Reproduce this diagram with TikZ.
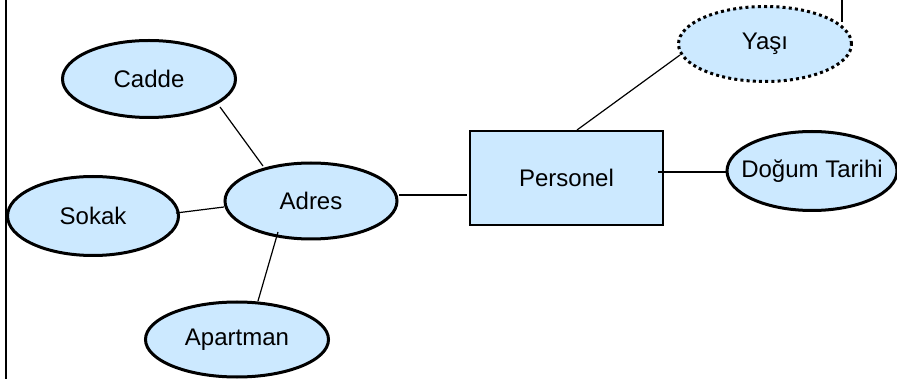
\documentclass[tikz,border=0pt]{standalone}
\usepackage{fontspec}
\setmainfont{Liberation Sans}
\usetikzlibrary{shapes.geometric}
\definecolor{attrfill}{RGB}{204,233,255}
% zero-width label so the ellipse size is set only by its minimum size
\newcommand{\flatlabel}[1]{\makebox[0pt]{#1}}
\tikzset{
  attr/.style={ellipse, draw=black, line width=3pt, fill=attrfill, inner sep=0pt,
    font=\fontsize{24}{28}\selectfont},
  derived/.style={attr, line width=3pt, dash pattern=on 3pt off 3.2pt},
  entity/.style={rectangle, draw=black, line width=1.3pt, fill=attrfill,
    minimum width=193pt, minimum height=94pt, inner sep=0pt,
    font=\fontsize{24}{28}\selectfont},
  link/.style={draw=black, line width=1.2pt},
  frame/.style={draw=black, line width=2.5pt}
}
\begin{document}
\begin{tikzpicture}[x=1pt, y=-1pt]
  \useasboundingbox (0,0) rectangle (897,379);

  % page frame line on the left
  \draw[frame] (6,-5) -- (6,384);

  % entity and attributes
  \node[entity] (personel) at (566.5,178) {Personel};
  \node[attr, minimum width=173pt, minimum height=77pt] (cadde) at (149,79) {\flatlabel{Cadde}};
  \node[attr, minimum width=171pt, minimum height=79pt] (sokak) at (93,216) {\flatlabel{Sokak}};
  \node[attr, minimum width=172pt, minimum height=76pt] (adres) at (311,201) {\flatlabel{Adres}};
  \node[attr, minimum width=183pt, minimum height=75pt] (apartman) at (237,339.5) {\flatlabel{Apartman}};
  \node[attr, minimum width=170pt, minimum height=79pt] (dogum) at (812,171) {\flatlabel{Doğum Tarihi}};
  \node[derived, minimum width=173pt, minimum height=75pt] (yasi) at (765,44) {\flatlabel{Yaşı}};
  \coordinate (yasiup) at (842,-2);

  % connectors
  \draw[link] ([shift={(71,28)}]cadde.center) -- ([shift={(-48,-35)}]adres.center);
  \draw[link] ([shift={(83,-3)}]sokak.center) -- ([shift={(-87,6)}]adres.center);
  \draw[link] ([shift={(21,-38.5)}]apartman.center) -- ([shift={(-33,31)}]adres.center);
  \draw[link] ([shift={(88,-6)}]adres.center) -- ([shift={(-99.5,17)}]personel.center);
  \draw[link] ([shift={(91.5,-6)}]personel.center) -- ([shift={(-86,1)}]dogum.center);
  \draw[link] ([shift={(10.5,-48)}]personel.center) -- ([shift={(-85,11)}]yasi.center);
  \draw[link] ([shift={(77,-22)}]yasi.center) -- (yasiup);
\end{tikzpicture}
\end{document}
